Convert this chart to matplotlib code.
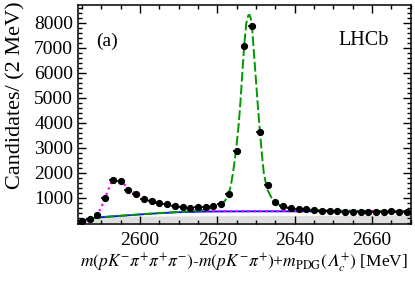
import matplotlib
matplotlib.use('Agg')
import matplotlib.pyplot as plt
import numpy as np
from matplotlib.ticker import MultipleLocator

plt.rcParams['font.family'] = ['Liberation Serif', 'DejaVu Serif']
plt.rcParams['mathtext.fontset'] = 'stix'

# data points, 2 MeV bins
mass = [2585, 2587, 2589, 2591, 2593, 2595, 2597, 2599, 2601, 2603, 2605, 2607, 2609,
        2611, 2613, 2615, 2617, 2619, 2621, 2623, 2625, 2627, 2629, 2631, 2633, 2635,
        2637, 2639, 2641, 2643, 2645, 2647, 2649, 2651, 2653, 2655, 2657, 2659, 2661,
        2663, 2665, 2667, 2669]
counts = [60, 140, 320, 1000, 1690, 1670, 1290, 1150, 960, 870, 770, 750, 670,
          640, 600, 630, 610, 660, 760, 1150, 2870, 7080, 7880, 3640, 1510, 840,
          670, 570, 550, 540, 510, 480, 470, 450, 430, 420, 440, 410, 420,
          410, 470, 440, 420]

# combinatorial background (blue)
bkg_x = [2584.5, 2585, 2586, 2587, 2588, 2590, 2595, 2600, 2605, 2610, 2615, 2620, 2630, 2650, 2670]
bkg_y = [0, 50, 110, 150, 185, 220, 275, 330, 380, 420, 440, 450, 455, 455, 455]

# low-mass fit (magenta)
low_x = [2584.5, 2585.4, 2587.1, 2589.2, 2590.5, 2591.8, 2592.7, 2593.5, 2594.8, 2596.1,
         2597.4, 2599.1, 2601.3, 2603.8, 2606.4, 2609, 2611.6, 2613, 2615, 2617, 2620, 2640, 2670]
low_y = [0, 80, 108, 376, 776, 1308, 1640, 1748, 1708, 1508,
         1308, 1148, 976, 840, 748, 668, 600, 560, 500, 470, 465, 465, 468]

# total fit around the peak (green)
tot_x = [2584.5, 2585, 2586, 2587, 2588, 2590, 2595, 2600, 2605, 2610, 2613, 2615, 2617,
         2619, 2620, 2621, 2622, 2623, 2623.5, 2624, 2624.5, 2625, 2625.5, 2626, 2626.5,
         2627, 2627.5, 2628, 2628.3, 2628.6, 2629, 2629.5, 2630, 2630.5, 2631, 2631.5,
         2632, 2632.5, 2633, 2634, 2635, 2636, 2637, 2639, 2641, 2645, 2650, 2660, 2670]
tot_y = [0, 50, 110, 150, 185, 222, 280, 336, 388, 430, 455, 480, 530,
         610, 670, 750, 880, 1180, 1500, 1950, 2500, 3150, 3900, 4900, 6100,
         7200, 8000, 8300, 8320, 8200, 7750, 6700, 5650, 4600, 3650, 2750,
         2000, 1600, 1300, 1000, 820, 720, 650, 580, 540, 505, 485, 470, 465]

# grey filled component
grey_x = [2584, 2585, 2586, 2588, 2600, 2620, 2640, 2670]
grey_y = [0, 150, 230, 250, 265, 280, 290, 300]

fig = plt.figure(figsize=(4.15, 2.81), dpi=100)
ax = fig.add_axes([0.188, 0.203, 0.802, 0.779])

ax.fill_between(grey_x, 0, grey_y, color='#dedede', lw=0)
ax.plot(bkg_x, bkg_y, color='#0000ff', lw=1.3)
ax.plot(low_x, low_y, color='#ff00ff', lw=1.6, ls=':')
ax.plot(tot_x, tot_y, color='#009900', lw=1.4, dashes=(5, 1.6))

m = np.array(mass)
c = np.array(counts)
ax.errorbar(m, c, xerr=1, yerr=np.sqrt(c), fmt='o', color='black', ms=4.2,
            elinewidth=1.2, capsize=0)

ax.set_xlim(2584, 2670)
ax.set_ylim(-50, 8710)
ax.set_xticks([2600, 2620, 2640, 2660])
ax.set_yticks(range(1000, 9000, 1000))
ax.xaxis.set_minor_locator(MultipleLocator(5))
ax.yaxis.set_minor_locator(MultipleLocator(200))
ax.tick_params(which='both', direction='in', top=True, right=True, labelsize=14, width=1)
ax.tick_params(which='major', length=5.5)
ax.tick_params(which='minor', length=2.8)
ax.tick_params(axis='x', pad=6)
for s in ax.spines.values():
    s.set_linewidth(1.1)

ax.text(0.054, 0.836, '(a)', transform=ax.transAxes, fontsize=14, ha='left', va='center')
ax.text(0.934, 0.84, 'LHCb', transform=ax.transAxes, fontsize=14.5, ha='right', va='center')

ax.set_xlabel(r'$m(pK^{-}\pi^{+}\pi^{+}\pi^{-})$-$m(pK^{-}\pi^{+})$+$m_{\rm PDG}(𝛬_{c}^{+})$ [MeV]',
              fontsize=12.5, labelpad=2)
fig.text(0.039, 0.66, 'Candidates/ (2 MeV)', rotation=90, fontsize=16, ha='center', va='center')

fig.savefig('out.png', dpi=100)
